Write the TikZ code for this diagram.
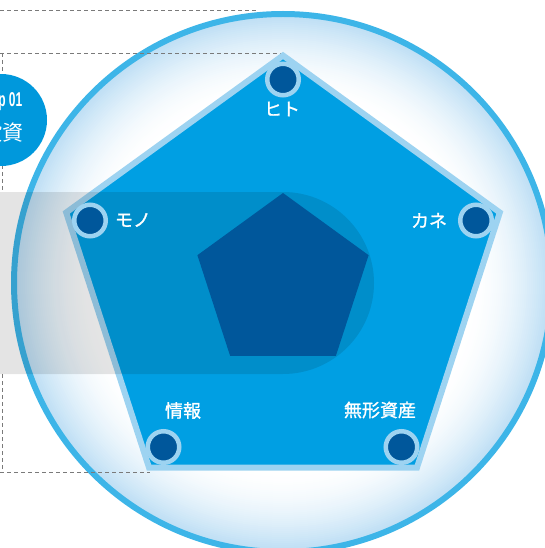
\documentclass[tikz,border=0pt]{standalone}
\usepackage{fontspec}
\usepackage{graphicx}
\newfontfamily\jp{Noto Sans CJK JP}
\newfontfamily\jpmid[FakeBold=1.2]{Noto Sans CJK JP}
\newfontfamily\condfont{Liberation Sans}
\definecolor{ringblue}{HTML}{3DB5E8}
\definecolor{haze}{HTML}{BADDF4}
\definecolor{pentfill}{HTML}{009FE3}
\definecolor{pentedge}{HTML}{9DD3F1}
\definecolor{deepblue}{HTML}{00579B}
\definecolor{badgeblue}{HTML}{0098DC}
\definecolor{dashgray}{HTML}{7A7A7A}
\tikzset{
  guide/.style={dashgray, line width=0.9pt, dash pattern=on 4pt off 3pt},
  vertexdot/.style={circle, inner sep=0pt, minimum size=31.5pt, fill=deepblue, draw=pentedge, line width=4.5pt},
  reslabel/.style={text=white, inner sep=0pt, font=\jpmid\fontsize{18}{18}\selectfont},
}
\begin{document}
\begin{tikzpicture}[x=1pt,y=-1pt]
\useasboundingbox (0,0) rectangle (545,548);
\clip (0,0) rectangle (545,548);
\coordinate (c) at (283,283);
% haze of the big circle
\foreach \i in {0,...,40} {
  \pgfmathsetmacro\p{100*(1-\i/40)^1.7}
  \fill[haze!\p!white] (c) circle ({270-2*\i});
}
\draw[ringblue, line width=6pt] (c) circle (269);
% dashed guides
\coordinate (g1) at (0,10);   \coordinate (g2) at (258,10);
\coordinate (g3) at (0,53);   \coordinate (g4) at (283,53);
\coordinate (g5) at (2,53);   \coordinate (g6) at (2,192);
\coordinate (g7) at (2,374);  \coordinate (g8) at (2,472);
\coordinate (g9) at (0,472);  \coordinate (g10) at (150,472);
\draw[guide] (g1) -- (g2);
\draw[guide] (g3) -- (g4);
\draw[guide] (g5) -- (g6);
\draw[guide] (g7) -- (g8);
\draw[guide] (g9) -- (g10);
% outer pentagon
\coordinate (pt) at (283,55.5);
\coordinate (pr) at (499.8,212.5);
\coordinate (pbr) at (417,467.5);
\coordinate (pbl) at (149,467.5);
\coordinate (pl) at (66.2,212.5);
\draw[pentedge, line width=6pt, line join=miter, fill=pentfill] (pt) -- (pr) -- (pbr) -- (pbl) -- (pl) -- cycle;
% grey band with inner disc
\fill[black, fill opacity=0.105] (0,192) -- (283,192) arc[start angle=-90, end angle=90, radius=91] -- (0,374) -- cycle;
% inner pentagon
\coordinate (qt) at (283,193);
\coordinate (qr) at (368.6,255.2);
\coordinate (qbr) at (335.9,355.8);
\coordinate (qbl) at (230.1,355.8);
\coordinate (ql) at (197.4,255.2);
\fill[deepblue] (qt) -- (qr) -- (qbr) -- (qbl) -- (ql) -- cycle;
% vertex dots
\node[vertexdot] (dt) at (283,79.5) {};
\node[vertexdot] (dr) at (476,220.5) {};
\node[vertexdot] (dbr) at (401.5,447) {};
\node[vertexdot] (dbl) at (163.5,447) {};
\node[vertexdot] (dl) at (90,220.5) {};
% labels
\node[reslabel] (lt) at (282,109) {ヒト};
\node[reslabel] (ll) at (133,220) {モノ};
\node[reslabel] (lr) at (429,220.5) {カネ};
\node[reslabel] (lbl) at (183,410.5) {情報};
\node[reslabel] (lbr) at (380,410) {無形資産};
% step badge
\fill[badgeblue] (1,120) circle (46);
\node[text=white, inner sep=0pt] (stepno) at (1,102) {\scalebox{0.6}[1]{\condfont\bfseries\fontsize{20}{20}\selectfont Step 01}};
\node[text=white, inner sep=0pt] (steptitle) at (3,133) {\jp\fontsize{21}{21}\selectfont 投資};
\end{tikzpicture}
\end{document}
